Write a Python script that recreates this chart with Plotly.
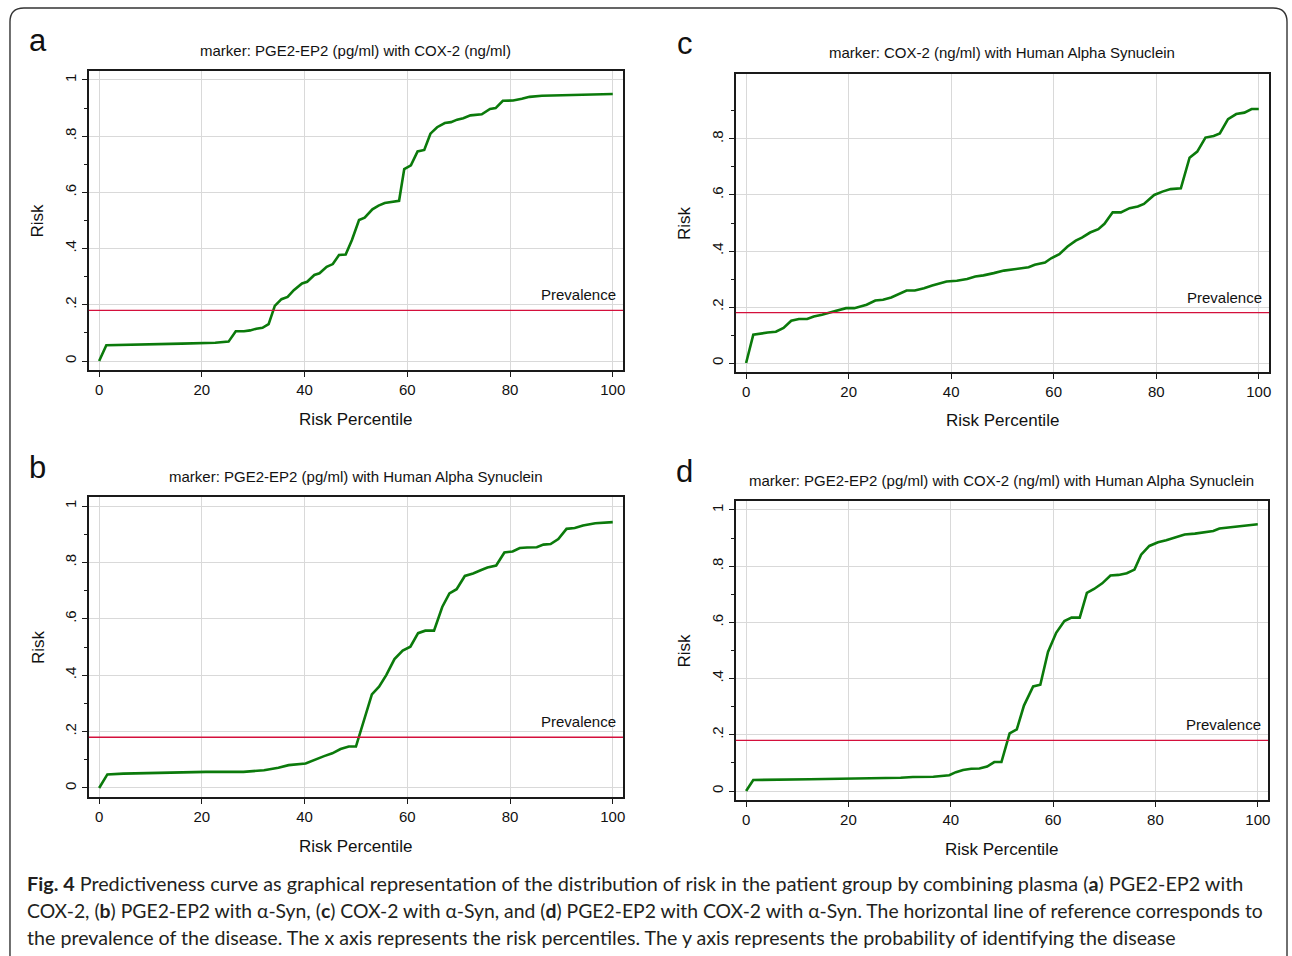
import plotly.graph_objects as go

# ---------------- data ----------------
pct_a = [0, 1.4, 16.1, 22.6, 25.2, 26.6, 28.2, 29.4, 30.6, 31.8, 33.0, 34.2, 35.5, 36.7, 37.9, 39.5,
         40.5, 41.9, 42.9, 44.3, 45.5, 46.7, 48.0, 49.2, 50.6, 51.7, 53.2, 54.4, 55.6, 57.2, 58.4,
         59.4, 60.7, 62.0, 63.3, 64.5, 65.8, 67.3, 68.5, 69.7, 70.9, 72.3, 74.5, 76.1, 77.2, 78.6,
         80.6, 82.3, 83.8, 86.2, 90.2, 95.1, 100]
risk_a = [0, 0.056, 0.062, 0.065, 0.069, 0.106, 0.106, 0.109, 0.115, 0.118, 0.131, 0.196, 0.22,
          0.228, 0.252, 0.276, 0.282, 0.306, 0.312, 0.335, 0.345, 0.377, 0.379, 0.43, 0.502, 0.51,
          0.54, 0.553, 0.562, 0.567, 0.57, 0.683, 0.696, 0.746, 0.751, 0.809, 0.832, 0.847, 0.85,
          0.859, 0.864, 0.874, 0.878, 0.897, 0.9, 0.926, 0.927, 0.933, 0.94, 0.944, 0.946, 0.949, 0.95]

pct_b = [0, 1.6, 4.7, 12.7, 20.8, 28.1, 32.1, 34.9, 36.9, 40.2, 41.8, 43.8, 45.4, 47.0, 48.6, 50.0,
         53.1, 54.5, 55.9, 57.5, 59.1, 60.6, 62.1, 63.5, 65.2, 66.8, 68.2, 69.6, 71.2, 72.8, 74.4,
         75.6, 77.3, 78.9, 80.5, 81.9, 83.3, 85.2, 86.5, 87.9, 89.4, 91.0, 92.6, 94.2, 96.6, 100]
risk_b = [0, 0.048, 0.051, 0.054, 0.057, 0.057, 0.063, 0.072, 0.081, 0.087, 0.099, 0.113, 0.123,
          0.138, 0.147, 0.147, 0.332, 0.359, 0.4, 0.457, 0.487, 0.501, 0.549, 0.558, 0.558, 0.642,
          0.69, 0.705, 0.752, 0.761, 0.773, 0.782, 0.789, 0.835, 0.839, 0.851, 0.853, 0.854, 0.863,
          0.865, 0.883, 0.919, 0.922, 0.931, 0.939, 0.943]

pct_c = [0, 1.4, 4.2, 5.8, 7.3, 8.8, 10.3, 11.9, 13.2, 14.8, 16.7, 18.3, 19.5, 21.1, 23.5, 25.2,
         26.7, 28.3, 29.9, 31.3, 32.9, 34.7, 36.3, 37.5, 39.1, 41.1, 43.1, 44.7, 46.3, 48.3, 50.3,
         52.3, 53.9, 55.1, 56.3, 58.3, 59.5, 61.1, 62.7, 64.3, 65.5, 67.1, 68.7, 69.9, 71.5, 73.1,
         74.8, 76.4, 77.6, 79.6, 81.2, 82.8, 84.8, 86.5, 88.0, 89.6, 91.2, 92.4, 94.0, 95.6, 97.2,
         98.6, 100]
risk_c = [0, 0.101, 0.109, 0.112, 0.125, 0.151, 0.157, 0.157, 0.166, 0.172, 0.182, 0.19, 0.196,
          0.196, 0.208, 0.223, 0.226, 0.234, 0.247, 0.259, 0.259, 0.267, 0.277, 0.282, 0.291, 0.294,
          0.3, 0.309, 0.313, 0.321, 0.33, 0.335, 0.339, 0.342, 0.351, 0.359, 0.374, 0.389, 0.416,
          0.437, 0.448, 0.466, 0.478, 0.497, 0.538, 0.538, 0.553, 0.559, 0.568, 0.6, 0.612, 0.621,
          0.624, 0.733, 0.755, 0.805, 0.811, 0.82, 0.871, 0.889, 0.894, 0.907, 0.907]

pct_d = [0, 1.4, 12.5, 20.5, 30.2, 32.6, 36.6, 39.7, 41.0, 42.4, 44.0, 45.6, 47.1, 48.5, 49.9, 51.5,
         52.9, 54.3, 56.1, 57.5, 59.0, 60.6, 62.2, 63.6, 65.2, 66.6, 68.0, 69.6, 71.2, 72.8, 74.4,
         75.9, 77.2, 78.8, 80.5, 82.1, 84.1, 85.7, 87.7, 89.7, 91.3, 92.5, 94.5, 96.1, 98.1, 100]
risk_d = [0, 0.039, 0.042, 0.044, 0.047, 0.05, 0.051, 0.056, 0.067, 0.075, 0.079, 0.08, 0.087,
          0.103, 0.103, 0.205, 0.219, 0.304, 0.372, 0.378, 0.495, 0.563, 0.605, 0.617, 0.617, 0.705,
          0.719, 0.739, 0.767, 0.769, 0.775, 0.788, 0.841, 0.872, 0.885, 0.892, 0.904, 0.913, 0.916,
          0.922, 0.925, 0.934, 0.938, 0.94, 0.943, 0.949]

prevalence = [0.18, 0.18, 0.18, 0.18]
panel_letters = ["a", "b", "c", "d"]
panel_titles = [
    "marker: PGE2-EP2 (pg/ml) with COX-2 (ng/ml)",
    "marker: PGE2-EP2 (pg/ml) with Human Alpha Synuclein",
    "marker: COX-2 (ng/ml) with Human Alpha Synuclein",
    "marker: PGE2-EP2 (pg/ml) with COX-2 (ng/ml) with Human Alpha Synuclein",
]
x_ticks = [0, 20, 40, 60, 80, 100]
y_ticks_full = [0, 0.2, 0.4, 0.6, 0.8, 1]
y_text_full = ["0", ".2", ".4", ".6", ".8", "1"]
y_ticks_c = [0, 0.2, 0.4, 0.6, 0.8]
y_text_c = ["0", ".2", ".4", ".6", ".8"]
y_minor = [0.1, 0.3, 0.5, 0.7, 0.9]
x_title = "Risk Percentile"
y_title = "Risk"
prev_label = "Prevalence"
caption_lines = [
    "<b>Fig. 4</b> Predictiveness curve as graphical representation of the distribution of risk in the patient group by combining plasma (<b>a</b>) PGE2-EP2 with",
    "COX-2, (<b>b</b>) PGE2-EP2 with α-Syn, (<b>c</b>) COX-2 with α-Syn, and (<b>d</b>) PGE2-EP2 with COX-2 with α-Syn. The horizontal line of reference corresponds to",
    "the prevalence of the disease. The x axis represents the risk percentiles. The y axis represents the probability of identifying the disease",
]

# ---------------- layout geometry ----------------
W, H = 1292, 956
def px(v):
    return v / W
def py(v):
    return 1 - v / H

# panel frames in pixels: left, right, top, bottom
frames = [
    (89, 624, 71, 370),     # a
    (89, 624, 497, 797),    # b
    (737, 1271, 74, 372),   # c
    (737, 1270, 501, 800),  # d
]
series = [(pct_a, risk_a), (pct_b, risk_b), (pct_c, risk_c), (pct_d, risk_d)]

GREEN = "#0b7a0b"
RED = "#d4103c"
GRID = "#d9d9d9"
FRAME = "#1a1a1a"
FONT = "Liberation Sans, Arial, sans-serif"
CAPTION_SIZES = [19.8, 19.35, 19.65]

fig = go.Figure()
layout = dict(
    width=W, height=H, margin=dict(l=0, r=0, t=0, b=0),
    paper_bgcolor="white", plot_bgcolor="white", showlegend=False,
    font=dict(family=FONT, color="#111"),
)
annotations = []
shapes = []

for i, ((l, r, t, b), (xs, ys)) in enumerate(zip(frames, series)):
    n = "" if i == 0 else str(i + 1)
    xa, ya = "x" + n, "y" + n
    fig.add_trace(go.Scatter(x=xs, y=ys, mode="lines", xaxis=xa, yaxis=ya,
                             line=dict(color=GREEN, width=2.6), hoverinfo="skip"))
    is_c = (i == 2)
    layout["xaxis" + n] = dict(
        domain=[px(l), px(r)], anchor=ya, range=[-2, 102],
        tickvals=x_ticks, ticks="outside", ticklen=5, tickwidth=1, tickcolor=FRAME,
        tickfont=dict(size=15, family=FONT, color="#111"),
        showgrid=True, gridcolor=GRID, gridwidth=1.2, zeroline=False,
        showline=True, mirror=True, linecolor=FRAME, linewidth=1.6,
    )
    layout["yaxis" + n] = dict(
        domain=[py(b), py(t)], anchor=xa, range=[-0.032, 1.032],
        tickvals=y_ticks_c if is_c else y_ticks_full,
        ticktext=y_text_c if is_c else y_text_full,
        tickangle=-90, ticks="outside", ticklen=5, tickwidth=1, tickcolor=FRAME,
        tickfont=dict(size=15, family=FONT, color="#111"),
        minor=dict(tickvals=y_minor, ticks="outside", ticklen=3, tickcolor=FRAME, showgrid=False),
        showgrid=True, gridcolor=GRID, gridwidth=1.2, zeroline=False,
        showline=True, mirror=True, linecolor=FRAME, linewidth=1.6,
    )
    # prevalence reference line
    shapes.append(dict(type="line", xref=xa + " domain", yref=ya, x0=0, x1=1,
                       y0=prevalence[i], y1=prevalence[i], line=dict(color=RED, width=1.4)))
    annotations.append(dict(text=prev_label, xref=xa, yref=ya, x=101.1, y=prevalence[i] + 0.055,
                            xanchor="right", yanchor="middle", showarrow=False,
                            font=dict(size=15, family=FONT, color="#111")))
    cx = (l + r) / 2
    # panel title
    annotations.append(dict(text=panel_titles[i], xref="paper", yref="paper",
                            x=px(cx), y=py(t - 21), xanchor="center", yanchor="middle",
                            showarrow=False, font=dict(size=15, family=FONT, color="#111")))
    # axis titles
    annotations.append(dict(text=x_title, xref="paper", yref="paper",
                            x=px(cx), y=py(b + 49), xanchor="center", yanchor="middle",
                            showarrow=False, font=dict(size=17, family=FONT, color="#111")))
    annotations.append(dict(text=y_title, xref="paper", yref="paper",
                            x=px(l - 51), y=py((t + b) / 2), xanchor="center", yanchor="middle",
                            textangle=-90, showarrow=False,
                            font=dict(size=17, family=FONT, color="#111")))
    # panel letter
    annotations.append(dict(text=panel_letters[i], xref="paper", yref="paper",
                            x=px(l - 51), y=py(t - 30), xanchor="center", yanchor="middle",
                            showarrow=False, font=dict(size=31, family=FONT, color="#111")))

# caption
for k, line in enumerate(caption_lines):
    annotations.append(dict(text=line, xref="paper", yref="paper", x=px(25), y=py(883 + 27 * k),
                            xanchor="left", yanchor="middle", showarrow=False,
                            font=dict(size=CAPTION_SIZES[k], family="Lato, Noto Sans, sans-serif",
                                      color="#231f20")))

# outer rounded border
L, R, T, B, rad = 10, 1289, 8, 962, 14
path = (f"M {px(L)},{py(B)} L {px(L)},{py(T + rad)} Q {px(L)},{py(T)} {px(L + rad)},{py(T)} "
        f"L {px(R - rad)},{py(T)} Q {px(R)},{py(T)} {px(R)},{py(T + rad)} L {px(R)},{py(B)}")
shapes.append(dict(type="path", xref="paper", yref="paper", path=path,
                   line=dict(color="#333333", width=1.4)))

layout["annotations"] = annotations
layout["shapes"] = shapes
fig.update_layout(**layout)
fig.write_html("out.html", config={"displayModeBar": False},
               post_script="document.body.style.margin='0px';document.body.style.overflow='hidden';")
